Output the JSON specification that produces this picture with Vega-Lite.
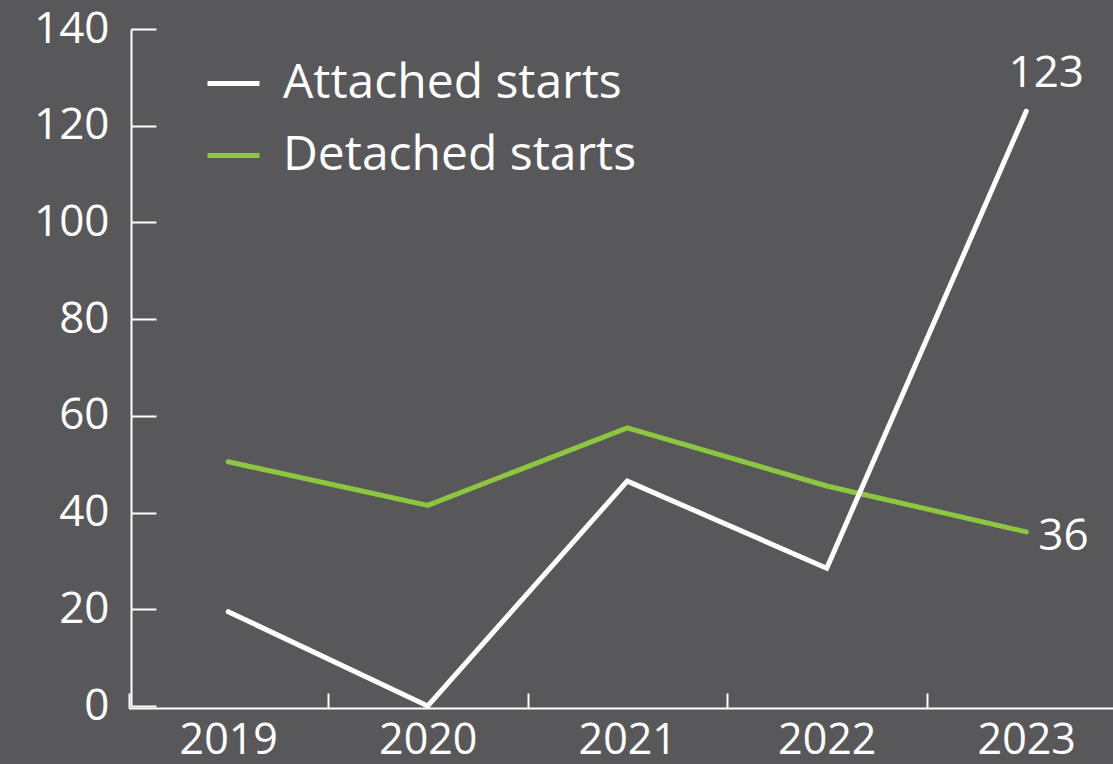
{
  "$schema": "https://vega.github.io/schema/vega-lite/v6.json",
  "autosize": "none",
  "width": 982,
  "height": 677,
  "padding": {"left": 131, "top": 29, "right": 0, "bottom": 58},
  "background": "#58585a",
  "config": {
    "view": {"stroke": null},
    "font": "Open Sans"
  },
  "data": {
    "values": [
      {"year": "2019", "series": "Attached starts", "value": 19.5},
      {"year": "2020", "series": "Attached starts", "value": 0},
      {"year": "2021", "series": "Attached starts", "value": 46.5},
      {"year": "2022", "series": "Attached starts", "value": 28.5},
      {"year": "2023", "series": "Attached starts", "value": 123},
      {"year": "2019", "series": "Detached starts", "value": 50.5},
      {"year": "2020", "series": "Detached starts", "value": 41.5},
      {"year": "2021", "series": "Detached starts", "value": 57.5},
      {"year": "2022", "series": "Detached starts", "value": 45.5},
      {"year": "2023", "series": "Detached starts", "value": 36}
    ]
  },
  "encoding": {
    "x": {
      "field": "year",
      "type": "ordinal",
      "bandPosition": 0.5,
      "scale": {"type": "band", "range": [-2.5, 995], "paddingInner": 0, "paddingOuter": 0},
      "axis": {
        "title": null,
        "labelAngle": 0,
        "tickBand": "extent",
        "tickSize": -15,
        "tickWidth": 2,
        "tickColor": "#ffffff",
        "domainColor": "#ffffff",
        "domainWidth": 2,
        "offset": 2,
        "labelColor": "#ffffff",
        "labelFont": "Open Sans",
        "labelFontSize": 43,
        "labelPadding": 26,
        "grid": false
      }
    },
    "y": {
      "field": "value",
      "type": "quantitative",
      "scale": {"domain": [0, 140], "nice": false},
      "axis": {
        "title": null,
        "values": [0, 20, 40, 60, 80, 100, 120, 140],
        "tickSize": -25,
        "tickWidth": 2,
        "tickColor": "#ffffff",
        "domainColor": "#ffffff",
        "domainWidth": 2,
        "labelColor": "#ffffff",
        "labelFont": "Open Sans",
        "labelFontSize": 44,
        "labelPadding": 47,
        "grid": false
      }
    }
  },
  "layer": [
    {
      "transform": [{"filter": "datum.series === 'Detached starts'"}],
      "mark": {"type": "line", "strokeWidth": 5, "strokeCap": "round", "strokeJoin": "miter"},
      "encoding": {
        "color": {
          "field": "series",
          "type": "nominal",
          "scale": {"domain": ["Attached starts", "Detached starts"], "range": ["#ffffff", "#8dc63f"]},
          "legend": {
            "title": null,
            "orient": "none",
            "legendX": 74,
            "legendY": 26,
            "padding": 0,
            "symbolType": "stroke",
            "symbolSize": 2704,
            "symbolStrokeWidth": 5,
            "labelColor": "#ffffff",
            "labelFont": "Open Sans",
            "labelFontSize": 48,
            "labelOffset": 21,
            "rowPadding": 19,
            "labelLimit": 600
          }
        }
      }
    },
    {
      "transform": [{"filter": "datum.series === 'Attached starts'"}],
      "mark": {"type": "line", "strokeWidth": 5, "strokeCap": "round", "strokeJoin": "miter"},
      "encoding": {
        "color": {"field": "series", "type": "nominal"}
      }
    },
    {
      "transform": [{"filter": "datum.series === 'Attached starts' && datum.year === '2023'"}],
      "mark": {"type": "text", "color": "#ffffff", "fontSize": 44, "font": "Open Sans", "align": "center", "baseline": "alphabetic", "dx": 20, "dy": -24},
      "encoding": {"text": {"field": "value", "type": "quantitative"}}
    },
    {
      "transform": [{"filter": "datum.series === 'Detached starts' && datum.year === '2023'"}],
      "mark": {"type": "text", "color": "#ffffff", "fontSize": 44, "font": "Open Sans", "align": "left", "baseline": "middle", "dx": 12, "dy": 5},
      "encoding": {"text": {"field": "value", "type": "quantitative"}}
    }
  ]
}
